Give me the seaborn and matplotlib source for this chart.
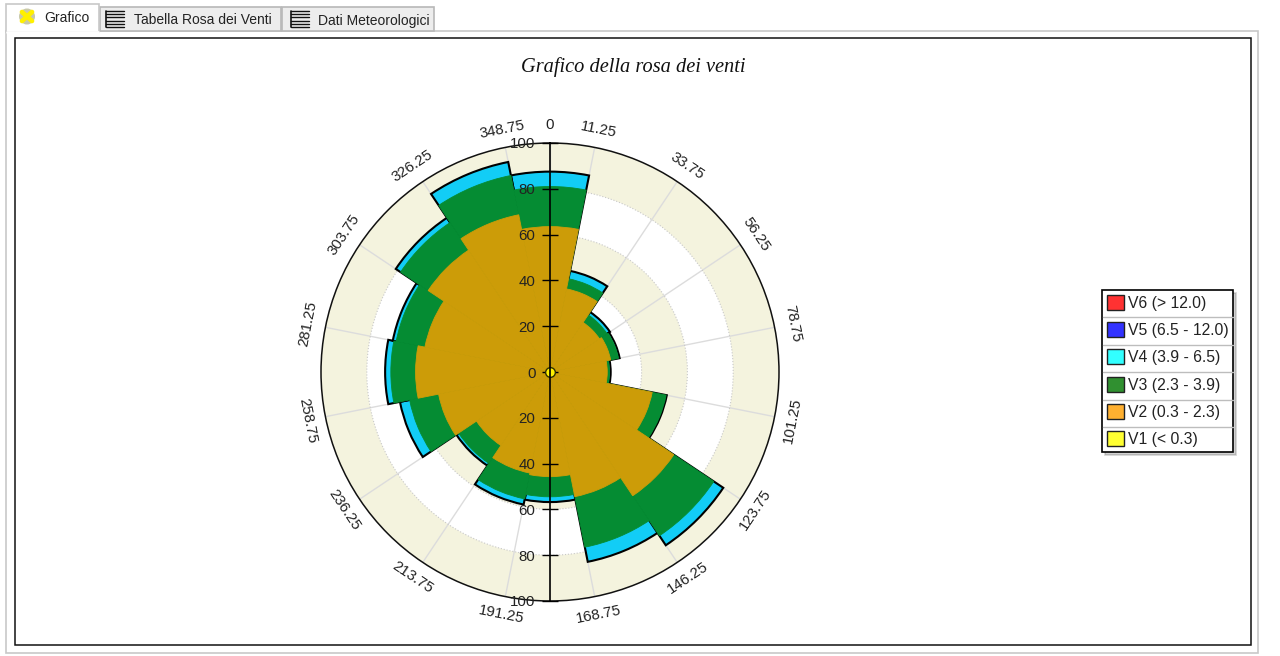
import numpy as np
import pandas as pd
import matplotlib
matplotlib.use("Agg")
import matplotlib.pyplot as plt
from matplotlib.patches import Rectangle, Circle
import seaborn as sns

title = "Grafico della rosa dei venti"
directions = [0, 22.5, 45, 67.5, 90, 112.5, 135, 157.5, 180, 202.5, 225, 247.5, 270, 292.5, 315, 337.5]
edge_labels = ["11.25", "33.75", "56.25", "78.75", "101.25", "123.75", "146.25", "168.75",
               "191.25", "213.75", "236.25", "258.75", "281.25", "303.75", "326.25", "348.75"]
# cumulative frequency reached by each class, per direction
v2_top = [63.5, 37, 26, 27, 25, 45.5, 65, 55.5, 45.7, 45, 38.6, 49.6, 58.7, 55.7, 64, 70]
v3_top = [81, 41.5, 30, 30.5, 26, 51.7, 86, 78, 54.5, 56.5, 48, 62.5, 69.5, 68.5, 78.5, 87.5]
v4_top = [87.5, 45, 31.5, 31, 26.5, 52, 91, 84.5, 56.8, 59, 49.2, 66.8, 72, 70, 81, 93.5]
radial_ticks = [-100, -80, -60, -40, -20, 0, 20, 40, 60, 80, 100]
ring_starts = [0, 40, 80]
ring_width = 20
legend_labels = ["V6 (> 12.0)", "V5 (6.5 - 12.0)", "V4 (3.9 - 6.5)", "V3 (2.3 - 3.9)", "V2 (0.3 - 2.3)", "V1 (< 0.3)"]
legend_colors = ["#FF3232", "#3232FF", "#32FFFF", "#309030", "#FFB030", "#FFFF32"]
tab_labels = ["Grafico", "Tabella Rosa dei Venti", "Dati Meteorologici"]

BROWN, GREEN, CYAN, BEIGE = "#CC9C08", "#058C33", "#12CDF6", "#F4F3DE"

sns.set_theme(style="white")
plt.rcParams["font.family"] = ["Liberation Sans", "DejaVu Sans"]
W, H = 1280, 656
fig = plt.figure(figsize=(W / 100, H / 100), dpi=100, facecolor="white")

# window chrome, in pixel coordinates
ui = fig.add_axes([0, 0, 1, 1], zorder=0)
ui.set_xlim(0, W); ui.set_ylim(H, 0); ui.axis("off")
ui.add_patch(Rectangle((6, 31), 1252, 622, fc="white", ec="#C8C8C8", lw=1.2))
ui.add_patch(Rectangle((15, 38), 1236, 607, fc="white", ec="#111111", lw=1.1))
for x0, w0 in [(100, 181), (282, 152)]:
    ui.add_patch(Rectangle((x0, 7), w0, 24, fc="#EDEDED", ec="#B8B8B8", lw=1.2))
ui.add_patch(Rectangle((6, 4), 93, 28, fc="white", ec="#C8C8C8", lw=1.2))
ui.plot([7, 98], [31.5, 31.5], color="white", lw=2)
ui.add_patch(Circle((27, 16.5), 8, fc="#C9C9A8", ec="none"))
ui.plot([22, 32], [12, 21], color="#FFF000", lw=3.4)
ui.plot([22, 32], [21, 12], color="#FFF000", lw=3.4)
for x0 in (106, 291):
    for k in range(6):
        ui.plot([x0, x0 + 18], [11 + k * 3.2] * 2, color="#111111", lw=1)
    ui.plot([x0, x0], [11, 27], color="#111111", lw=1.2)
ui.text(44, 18, tab_labels[0], fontsize=10, va="center", color="#222222")
ui.text(134, 20.5, tab_labels[1], fontsize=10, va="center", color="#222222")
ui.text(318, 20.5, tab_labels[2], fontsize=10, va="center", color="#222222")
ui.text(633, 67, title, family=["Liberation Serif"], style="italic", fontsize=14.7,
        ha="center", va="center", color="#111111")

# polar rose
cx, cy, R = 550, 372, 229
box = [(cx - R) / W, (H - cy - R) / H, 2 * R / W, 2 * R / H]
ax = fig.add_axes(box, projection="polar", zorder=1)
ax.patch.set_alpha(0)
ax.set_theta_zero_location("N")
ax.set_theta_direction(-1)

theta = np.deg2rad(directions)
df = pd.DataFrame({"theta": theta, "V2": v2_top, "V3": v3_top, "V4": v4_top})

for start in ring_starts:
    ax.bar(0, ring_width, width=2 * np.pi, bottom=start, color=BEIGE, lw=0, zorder=0.1)
sns.barplot(data=df, x="theta", y="V4", native_scale=True, width=1, color=CYAN,
            saturation=1, edgecolor="#000000", linewidth=1.5, ax=ax)
sns.barplot(data=df, x="theta", y="V3", native_scale=True, width=1, color=GREEN,
            saturation=1, edgecolor=GREEN, linewidth=0.6, ax=ax)
sns.barplot(data=df, x="theta", y="V2", native_scale=True, width=1, color=BROWN,
            saturation=1, edgecolor=BROWN, linewidth=0.6, ax=ax)

edge_angles = theta + np.deg2rad(11.25)
ax.set_xticks(np.r_[edge_angles, 0.0])
ax.set_xticklabels([])
ax.set_yticks([20, 40, 60, 80])
ax.set_yticklabels([])
ax.set_ylim(0, 100)
ax.set_xlabel(""); ax.set_ylabel("")
ax.set_axisbelow(True)
ax.xaxis.grid(True, color="#DCDCDC", lw=1)
ax.yaxis.grid(True, color="#C8C8C8", lw=0.8, ls=":")
ax.tick_params(axis="x", direction="out", length=5, width=1, color="#222222", bottom=True)
ax.spines["polar"].set_color("#111111")
ax.spines["polar"].set_linewidth(1.1)

def upright(deg):
    if deg <= 90:
        return -deg
    return 180 - deg if deg < 270 else 360 - deg

for ang, lab in zip(edge_angles, edge_labels):
    ax.text(ang, 108, lab, rotation=upright(np.rad2deg(ang)), rotation_mode="anchor",
            ha="center", va="center", fontsize=10.8, color="#222222", clip_on=False)
ax.text(0, 108, "0", ha="center", va="center", fontsize=10.8, color="#222222", clip_on=False)

# vertical frequency axis through the centre
ax2 = fig.add_axes(box, zorder=2)
ax2.patch.set_alpha(0)
ax2.set_xlim(-100, 100); ax2.set_ylim(-100, 100)
for s in ("top", "right", "bottom"):
    ax2.spines[s].set_visible(False)
ax2.spines["left"].set_position("zero")
ax2.spines["left"].set_color("#000000")
ax2.spines["left"].set_linewidth(1.2)
ax2.set_xticks([])
ax2.set_yticks(radial_ticks)
ax2.set_yticklabels([str(abs(v)) for v in radial_ticks], fontsize=10.8, color="#222222")
ax2.tick_params(axis="y", direction="inout", length=11, width=1, color="#000000", pad=5, left=True)
ax2.plot([0], [0], "o", ms=7, mfc="#FFF000", mec="#333300", mew=1, clip_on=False)

# legend
handles = [Rectangle((0, 0), 1, 1, fc=c, ec="#222222", lw=1) for c in legend_colors]
leg = fig.legend(handles, legend_labels, loc="upper left",
                 bbox_to_anchor=(1102 / W, 1 - 290 / H), bbox_transform=fig.transFigure,
                 borderaxespad=0, fontsize=11.3, frameon=True, fancybox=False,
                 shadow={"alpha": 0.25}, edgecolor="#000000", framealpha=1,
                 handlelength=1.08, handleheight=1.1, handletextpad=0.25,
                 labelspacing=0.73, borderpad=0.3, labelcolor="#222222")
leg.get_frame().set_linewidth(1.2)
ov = fig.add_axes([0, 0, 1, 1], zorder=6)
ov.patch.set_alpha(0)
ov.set_xlim(0, W); ov.set_ylim(H, 0); ov.axis("off")
for k in range(1, 6):
    ov.plot([1103, 1233], [290 + k * 27.4] * 2, color="#BDBDBD", lw=1)

fig.savefig("out.png", dpi=100)
